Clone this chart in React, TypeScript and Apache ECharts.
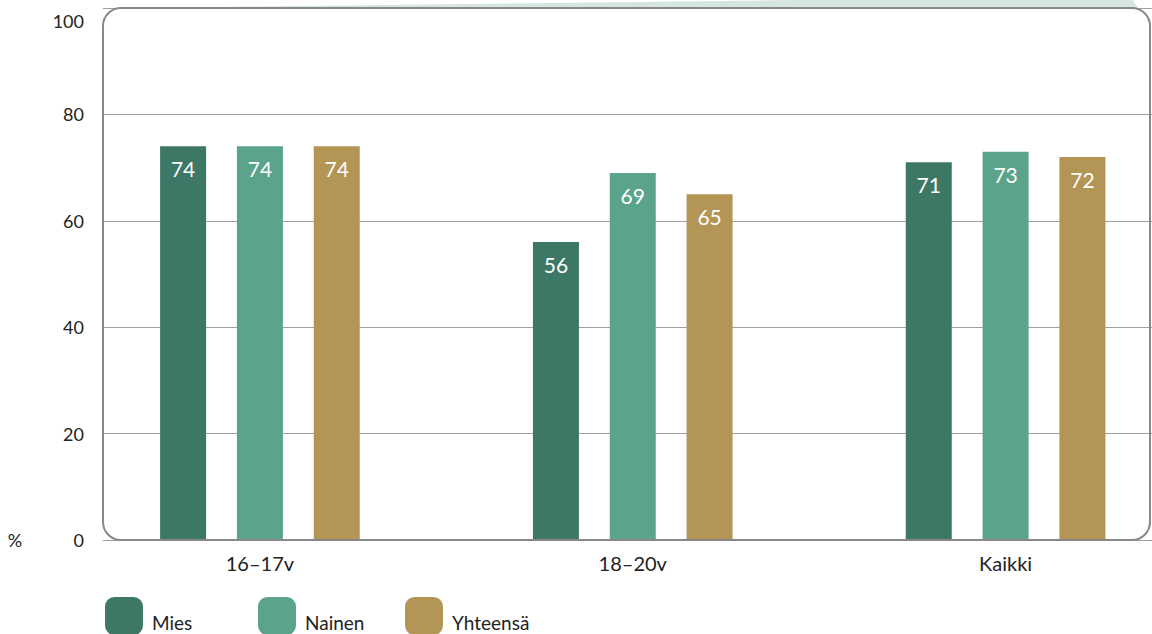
import React, { useEffect, useRef } from "react";
import * as echarts from "echarts";

// Age groups on the x axis
const categories = ["16–17v", "18–20v", "Kaikki"];
// Share (%) per group
const miesValues = [74, 56, 71];
const nainenValues = [74, 69, 73];
const yhteensaValues = [74, 65, 72];
const seriesNames = ["Mies", "Nainen", "Yhteensä"];
const seriesColors = ["#3d7866", "#5ba48b", "#b39555"];
const yTicks = { min: 0, max: 100, interval: 20 };

const FONT = "Lato, 'Noto Sans', sans-serif";

export default function App() {
  const ref = useRef<HTMLDivElement>(null);

  useEffect(() => {
    document.body.style.margin = "0";
    document.body.style.overflow = "hidden";
    if (!ref.current) return;
    const chart = echarts.init(ref.current, undefined, { renderer: "svg" });

    const seriesData = [miesValues, nainenValues, yhteensaValues];

    const option: any = {
      animation: false,
      textStyle: { fontFamily: FONT },
      grid: [
        // bars grid (wider band spacing, runs past the frame)
        { left: 73.5, width: 1119, top: 8, bottom: 94 },
        // value axis and gridlines inside the framed area
        { left: 103, width: 1049, top: 8, bottom: 94 },
      ],
      xAxis: [
        {
          type: "category",
          gridIndex: 0,
          data: categories,
          axisLine: { show: false },
          axisTick: { show: false },
          axisLabel: { color: "#222", fontSize: 20, margin: 13, fontFamily: FONT },
        },
        { type: "category", gridIndex: 1, data: categories, show: false },
      ],
      yAxis: [
        { type: "value", gridIndex: 0, ...yTicks, show: false, splitLine: { show: false } },
        {
          type: "value",
          gridIndex: 1,
          ...yTicks,
          axisLine: { show: false },
          axisTick: { show: false },
          splitLine: { show: true, lineStyle: { color: "#a0a0a0", width: 1 } },
          axisLabel: {
            color: "#222",
            fontSize: 18,
            margin: 19,
            fontFamily: FONT,
            formatter: (v: number) => (v === 100 ? "{top|100}" : String(v)),
            rich: { top: { fontSize: 18, color: "#222", padding: [26, 0, 0, 0], fontFamily: FONT } },
          },
        },
      ],
      legend: seriesNames.map((name, i) => ({
        data: [name],
        left: [105, 258, 405][i],
        top: 597,
        itemWidth: 38,
        itemHeight: 38,
        icon: "roundRect",
        padding: 0,
        formatter: "{t|{name}}",
        textStyle: {
          color: "#222",
          fontSize: 19,
          fontFamily: FONT,
          rich: { t: { color: "#222", fontSize: 19, fontFamily: FONT, padding: [12, 0, 0, 4] } },
        },
      })),
      graphic: [
        {
          type: "polygon",
          z: -1,
          shape: { points: [[130, 8], [1130, -4], [1138, 8]] },
          style: { fill: "#d5e6df" },
        },
        {
          type: "rect",
          z: 10,
          shape: { x: 103, y: 8, width: 1047, height: 532, r: 18 },
          style: { fill: "none", stroke: "#888", lineWidth: 2 },
        },
        {
          type: "text",
          x: 15,
          y: 540,
          style: { text: "%", fontSize: 18, fill: "#222", fontFamily: FONT, align: "center", verticalAlign: "middle" },
        },
      ],
      series: seriesNames.map((name, i) => ({
        name,
        type: "bar",
        xAxisIndex: 0,
        yAxisIndex: 0,
        data: seriesData[i],
        barWidth: 46,
        barGap: "67%",
        itemStyle: { color: seriesColors[i] },
        label: {
          show: true,
          position: "insideTop",
          distance: 12,
          color: "#fff",
          fontSize: 21,
          fontFamily: FONT,
          formatter: (p: any) => String(Math.round(p.value)),
        },
      })),
    };

    chart.setOption(option);
    return () => chart.dispose();
  }, []);

  return <div ref={ref} style={{ width: 1192, height: 634 }} />;
}
